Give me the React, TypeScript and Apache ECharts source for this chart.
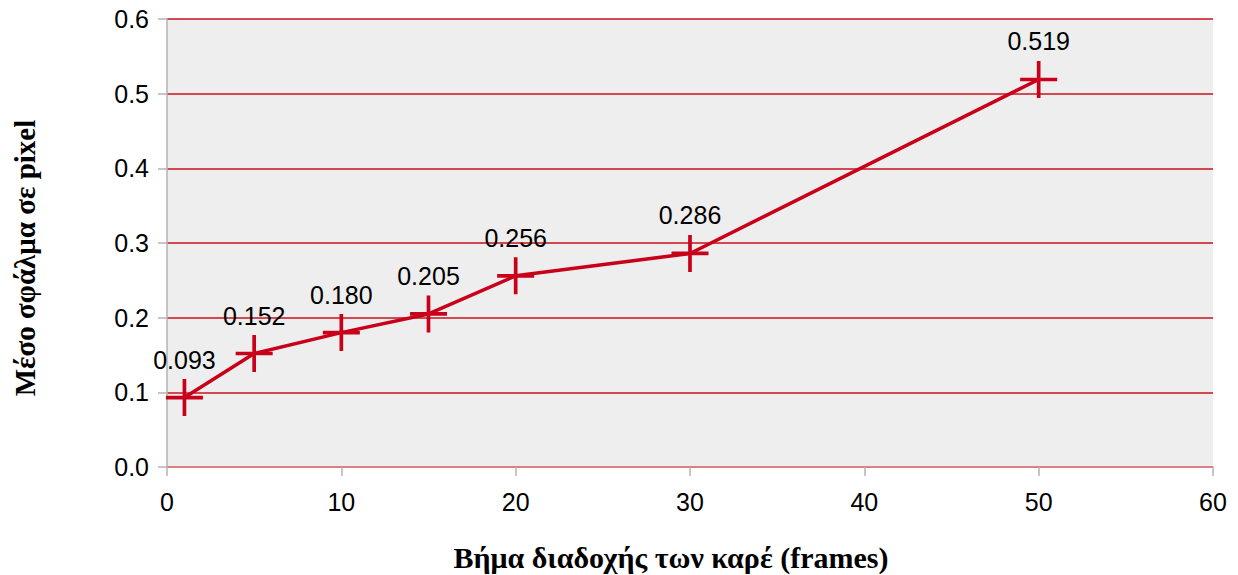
import React, { useEffect, useRef } from "react";
import * as echarts from "echarts";

// Frame step vs. mean pixel error
const frameSteps = [1, 5, 10, 15, 20, 30, 50];
const meanErrors = [0.093, 0.152, 0.18, 0.205, 0.256, 0.286, 0.519];

const xAxisTitle = "Βήμα διαδοχής των καρέ (frames)";
const yAxisTitle = "Μέσο σφάλμα σε pixel";

const RED = "#c9001a";
const GRID_RED = "#c8101c";
const AXIS_GRAY = "#b3b3b3";

const plusSymbol = "path://M0,9h20v2h-20zM9,0h2v20h-2z";

const titleFont = {
  fontFamily: "Liberation Serif",
  fontWeight: "bold",
  fill: "#000",
};

export default function App() {
  const ref = useRef<HTMLDivElement>(null);

  useEffect(() => {
    if (!ref.current) return;
    const chart = echarts.init(ref.current, undefined, { renderer: "svg" });
    chart.setOption({
      animation: false,
      backgroundColor: "#ffffff",
      grid: { left: 167, top: 19, width: 1046, height: 448, containLabel: false },
      graphic: [
        {
          type: "text",
          x: 671,
          y: 557,
          style: {
            ...titleFont,
            text: xAxisTitle,
            fontSize: 30,
            align: "center",
            verticalAlign: "middle",
          },
        },
        {
          type: "text",
          x: 25,
          y: 258,
          rotation: Math.PI / 2,
          style: {
            ...titleFont,
            text: yAxisTitle,
            fontSize: 29,
            align: "center",
            verticalAlign: "middle",
          },
        },
      ],
      xAxis: {
        type: "value",
        min: 0,
        max: 60,
        interval: 10,
        axisLine: { show: true, lineStyle: { color: "#e09098", width: 1.5 } },
        axisTick: { show: true, length: 9, lineStyle: { color: AXIS_GRAY, width: 1.5 } },
        axisLabel: {
          fontFamily: "Liberation Sans",
          fontSize: 25,
          color: "#000",
          margin: 22,
        },
        splitLine: { show: false },
      },
      yAxis: {
        type: "value",
        min: 0,
        max: 0.6,
        interval: 0.1,
        axisLine: { show: true, lineStyle: { color: AXIS_GRAY, width: 1.5 } },
        axisTick: { show: true, length: 9, lineStyle: { color: AXIS_GRAY, width: 1.5 } },
        axisLabel: {
          fontFamily: "Liberation Sans",
          fontSize: 25,
          color: "#000",
          margin: 18,
          formatter: (v: number) => v.toFixed(1),
        },
        splitLine: { show: true, lineStyle: { color: GRID_RED, width: 1.5 } },
        splitArea: { show: true, areaStyle: { color: ["#eeeeee", "#eeeeee"] } },
      },
      series: [
        {
          type: "line",
          data: frameSteps.map((x, i) => [x, meanErrors[i]]),
          lineStyle: { color: RED, width: 3.5 },
          itemStyle: { color: RED },
          symbol: plusSymbol,
          symbolSize: 37,
          label: {
            show: true,
            position: "top",
            distance: 7,
            fontFamily: "Liberation Sans",
            fontSize: 25,
            color: "#000",
            formatter: (p: any) => p.value[1].toFixed(3),
          },
          z: 5,
        },
      ],
    });
    return () => chart.dispose();
  }, []);

  return (
    <div
      ref={ref}
      style={{ position: "fixed", left: 0, top: 0, width: 1238, height: 575 }}
    />
  );
}
